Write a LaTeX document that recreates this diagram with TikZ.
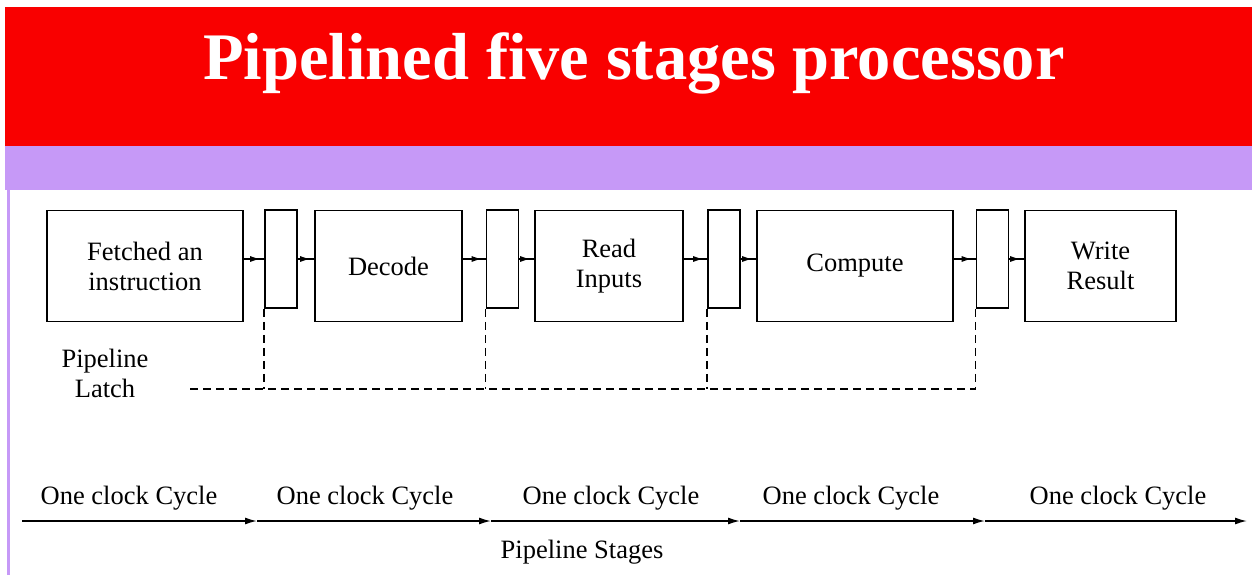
\documentclass[tikz,border=0pt]{standalone}
\usepackage{fontspec}
\setmainfont{Liberation Serif}
\newfontfamily\tmsfont{Liberation Serif}
\usetikzlibrary{arrows.meta,decorations.markings}
\definecolor{titlered}{HTML}{F90000}
\definecolor{bandpurple}{HTML}{C699F7}
\tikzset{
  stagebox/.style={draw, line width=1.6pt, minimum width=196pt, minimum height=111pt, inner sep=0pt, align=center, font=\tmsfont\fontsize{26.5}{30}\selectfont},
  latchbox/.style={draw, line width=1.6pt, minimum width=32pt, minimum height=98pt, inner sep=0pt},
  flow/.style={line width=1.3pt, postaction={decorate}, decoration={markings, mark=at position -4pt with {\arrow{Latex[length=10pt,width=6pt]}}}},
  latchdash/.style={line width=1.5pt, dash pattern=on 8pt off 5pt},
  lbl/.style={inner sep=0pt, font=\tmsfont\fontsize{26.5}{30}\selectfont, align=center},
  clockarr/.style={line width=1.5pt, -{Latex[length=12pt,width=7pt]}}
}
\begin{document}
\begin{tikzpicture}[x=1pt,y=-1pt]
\useasboundingbox (0,0) rectangle (1252,575);
\fill[white] (0,0) rectangle (1252,575);
\fill[titlered] (5,7) rectangle (1252,146);
\fill[bandpurple] (5,146) rectangle (1252,190);
\fill[bandpurple] (7,190) rectangle (10,575);
\node[inner sep=0pt, text=white, anchor=base, font=\tmsfont\fontsize{66.5}{70}\selectfont\bfseries] (title) at (634,80) {Pipelined five stages processor};

% stages
\node[stagebox] (s1) at (145,266) {Fetched an\\instruction};
\node[stagebox, minimum width=147pt] (s2) at (388.5,266) {Decode};
\node[stagebox, minimum width=148pt] (s3) at (609,266) {Read\\Inputs};
\node[stagebox] (s4) at (855,266) {Compute};
\node[stagebox, minimum width=151pt] (s5) at (1100.5,266) {Write\\Result};
% latches
\node[latchbox] (l1) at (281,259) {};
\node[latchbox] (l2) at (502.5,259) {};
\node[latchbox] (l3) at (724,259) {};
\node[latchbox] (l4) at (992.5,259) {};

\draw[flow] (s1.east |- l1.west) -- (l1.west);
\draw[flow] (l1.east) -- (s2.west |- l1.east);
\draw[flow] (s2.east |- l2.west) -- (l2.west);
\draw[flow] (l2.east) -- (s3.west |- l2.east);
\draw[flow] (s3.east |- l3.west) -- (l3.west);
\draw[flow] (l3.east) -- (s4.west |- l3.east);
\draw[flow] (s4.east |- l4.west) -- (l4.west);
\draw[flow] (l4.east) -- (s5.west |- l4.east);

% latch dashed lines
\coordinate (d0) at (190,389);
\draw[latchdash] (d0) -- (l4.south west |- d0);
\foreach \l in {l1,l2,l3,l4}{
  \draw[latchdash] (\l.south west) -- (\l.south west |- d0);
}
\node[lbl] (pl) at (105,373) {Pipeline\\Latch};

% clock axis
\coordinate (c0) at (22,521);
\coordinate (c1) at (257,521);
\coordinate (c2) at (491,521);
\coordinate (c3) at (740,521);
\coordinate (c4) at (985,521);
\coordinate (c5) at (1247,521);
\draw[clockarr] (c0) -- (c1);
\draw[clockarr] (c1) -- (c2);
\draw[clockarr] (c2) -- (c3);
\draw[clockarr] (c3) -- (c4);
\draw[clockarr] (c4) -- (c5);
\node[lbl] (k1) at (129,498) {One clock Cycle};
\node[lbl] (k2) at (365,498) {One clock Cycle};
\node[lbl] (k3) at (611,498) {One clock Cycle};
\node[lbl] (k4) at (851,498) {One clock Cycle};
\node[lbl] (k5) at (1118,498) {One clock Cycle};
\node[lbl] (ps) at (582,552) {Pipeline Stages};
\end{tikzpicture}
\end{document}
